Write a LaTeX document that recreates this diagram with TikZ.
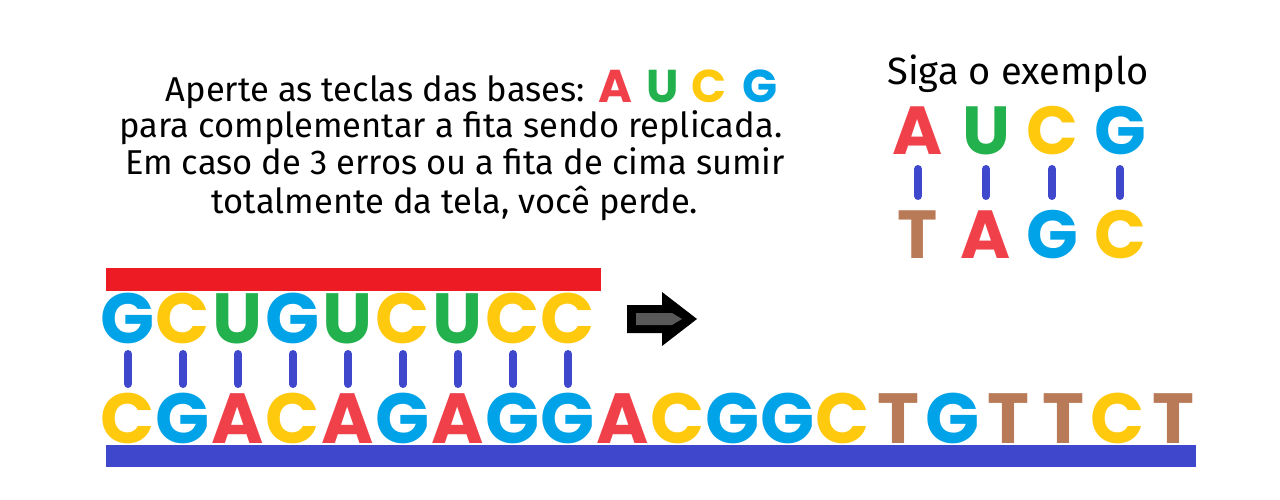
\documentclass[tikz,border=0pt]{standalone}
\usepackage{fontspec}
\setmainfont{Fira Sans}
\newfontfamily\heavy{Poppins}
\definecolor{cA}{RGB}{240,65,75}
\definecolor{cU}{RGB}{34,177,76}
\definecolor{cC}{RGB}{255,201,14}
\definecolor{cG}{RGB}{0,162,232}
\definecolor{cT}{RGB}{185,122,87}
\definecolor{redbar}{RGB}{237,28,36}
\definecolor{bluebar}{RGB}{63,72,204}
\tikzset{
  base/.style={inner sep=0pt, anchor=base, text=c#1, font=\heavy\bfseries\fontsize{71}{71}\selectfont},
  smallbase/.style={inner sep=0pt, anchor=base, text=c#1, font=\heavy\bfseries\fontsize{46}{46}\selectfont},
  bond/.style={draw=bluebar, line width=8pt, line cap=round},
  info/.style={inner sep=0pt, anchor=base, font=\fontsize{34.5}{34.5}\selectfont},
}
\begin{document}
\begin{tikzpicture}[x=1pt,y=-1pt]
\useasboundingbox[fill=white] (0,0) rectangle (1280,500);
% instructions
\node[info, anchor=base east] (l1) at (585,102) {Aperte as teclas das bases:};
\node[smallbase=A] (kA) at (615,103) {A};
\node[smallbase=U] (kU) at (663,103) {U};
\node[smallbase=C] (kC) at (709,103) {C};
\node[smallbase=G] (kG) at (760,103) {G};
\node[info] (l2) at (451,138) {para complementar a fita sendo replicada.};
\node[info] (l3) at (455,175) {Em caso de 3 erros ou a fita de cima sumir};
\node[info] (l4) at (455,213) {totalmente da tela, você perde.};
% example
\node[info, font=\fontsize{38}{38}\selectfont] (siga) at (1018,85) {Siga o exemplo};
\foreach \t/\b/\x [count=\i] in {A/T/918, U/A/986, C/G/1052, G/C/1120}{
  \node[base=\t, font=\heavy\bfseries\fontsize{68}{68}\selectfont] (et\i) at (\x,155) {\t};
  \node[base=\b, font=\heavy\bfseries\fontsize{68}{68}\selectfont] (eb\i) at (\x,258) {\b};
  \draw[bond, shorten <=14pt, shorten >=62pt] (et\i.base) -- (eb\i.base);
}
% strands
\fill[redbar] (106,268) rectangle (601,291);
\fill[bluebar] (106,445) rectangle (1196,467);
\foreach \t [count=\i from 0] in {G,C,U,G,U,C,U,C,C}{
  \node[base=\t] (t\i) at (128+55*\i,343) {\t};
}
\foreach \b [count=\i from 0] in {C,G,A,C,A,G,A,G,G,A,C,G,G,C,T,G,T,T,C,T}{
  \node[base=\b] (b\i) at (128+55*\i,443) {\b};
}
\foreach \i in {0,...,8}{
  \draw[bond, shorten <=11pt, shorten >=59pt] (t\i.base) -- (b\i.base);
}
% arrow
\fill[black] (627,305) -- (662,305) -- (662,292) -- (697,319) -- (662,346) -- (662,333) -- (627,333) -- cycle;
\fill[black!65] (636,313) -- (672,313) -- (682,319) -- (672,325) -- (636,325) -- cycle;
\end{tikzpicture}
\end{document}
